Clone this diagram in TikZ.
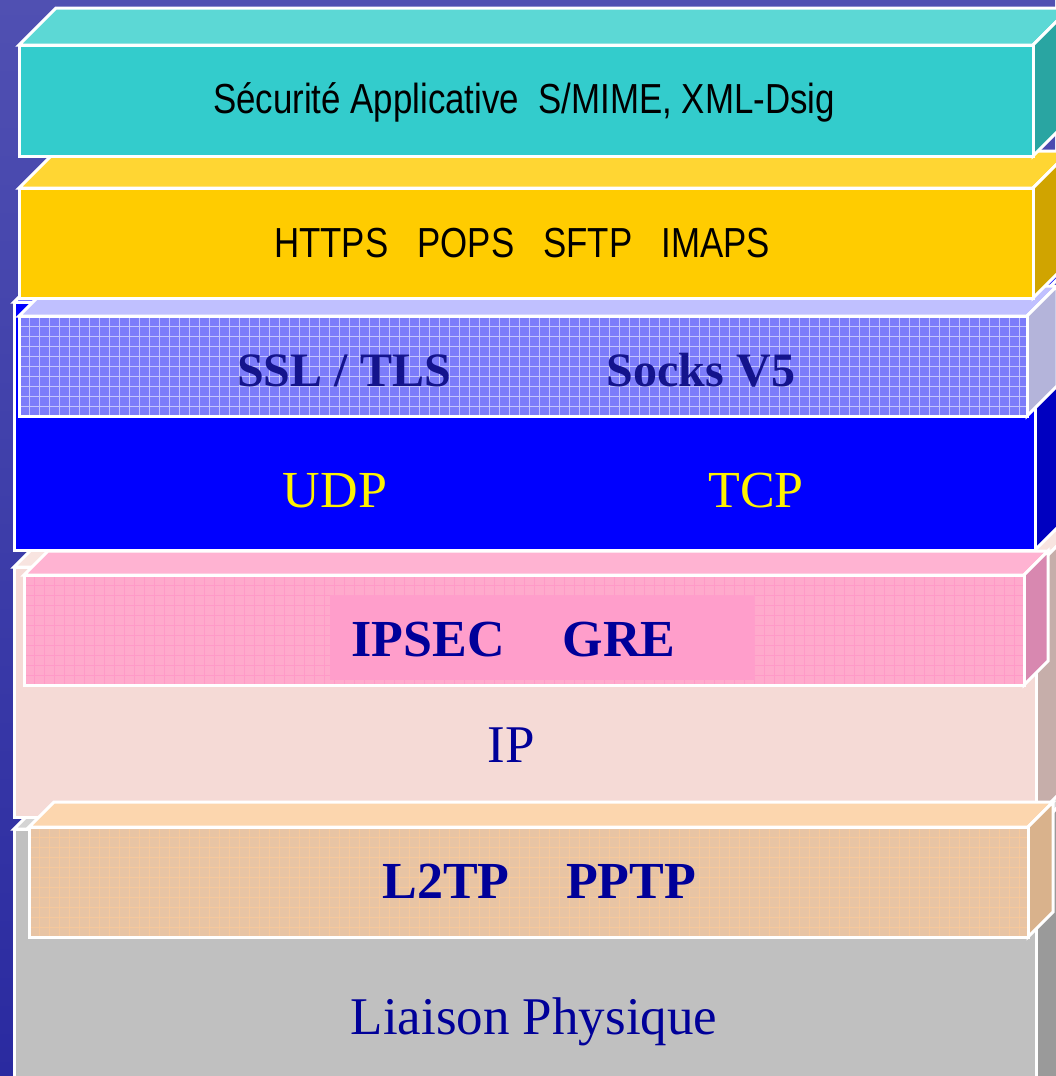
\documentclass[tikz,border=0pt]{standalone}
\usepackage{fontspec}
\setmainfont{Liberation Serif}
\newfontfamily\narrowsans[FakeStretch=0.83]{Liberation Sans}

\definecolor{bgtop}{HTML}{5050B2}
\definecolor{bgbot}{HTML}{2A2AA0}
\definecolor{tealfront}{HTML}{33CCCC}
\definecolor{tealtop}{HTML}{5CD8D5}
\definecolor{tealside}{HTML}{29A5A2}
\definecolor{yellowfront}{HTML}{FFCC00}
\definecolor{yellowtop}{HTML}{FFD633}
\definecolor{yellowside}{HTML}{D0A400}
\definecolor{sslfront}{HTML}{7C7CFA}
\definecolor{ssltop}{HTML}{C0C0FF}
\definecolor{sslside}{HTML}{B4B4DA}
\definecolor{udpfront}{HTML}{0000FF}
\definecolor{udptop}{HTML}{3333FF}
\definecolor{udpside}{HTML}{0000C0}
\definecolor{ipsecfront}{HTML}{FFAACC}
\definecolor{ipsecgrid}{HTML}{FF9AC8}
\definecolor{ipsectop}{HTML}{FFB3D2}
\definecolor{ipsecside}{HTML}{D888B0}
\definecolor{ipsecin}{HTML}{FF9ECB}
\definecolor{ipfront}{HTML}{F5DAD6}
\definecolor{iptop}{HTML}{F8E4E0}
\definecolor{ipside}{HTML}{C6AEAA}
\definecolor{ltfront}{HTML}{E8C4A4}
\definecolor{ltgrid}{HTML}{F6C89C}
\definecolor{lttop}{HTML}{FCD6AE}
\definecolor{ltside}{HTML}{D9B28C}
\definecolor{greyfront}{HTML}{C0C0C0}
\definecolor{greytop}{HTML}{D4D4D4}
\definecolor{greyside}{HTML}{9A9A9A}
\definecolor{navytxt}{HTML}{000099}
\definecolor{ssltxt}{HTML}{14148C}

\tikzset{
  boxline/.style={draw=white, line width=1.5pt, line join=miter},
  sanslbl/.style={anchor=base, inner sep=0pt, text=black, font=\narrowsans\fontsize{21}{25}\selectfont},
  boldlbl/.style={anchor=base, inner sep=0pt, text=navytxt, font=\bfseries\fontsize{26}{30}\selectfont},
  ssllbl/.style={anchor=base, inner sep=0pt, text=ssltxt, font=\bfseries\fontsize{24}{28}\selectfont},
  udplbl/.style={anchor=base, inner sep=0pt, text=yellow, font=\fontsize{26}{30}\selectfont},
  plainlbl/.style={anchor=base, inner sep=0pt, text=navytxt, font=\fontsize{26.5}{30}\selectfont}
}

% x1 y1 x2 y2 depth front top side
\newcommand{\layerbox}[8]{%
  \filldraw[boxline, fill=#7] (#1,#2) -- (#1+#5,#2-#5) -- (#3+#5,#2-#5) -- (#3,#2) -- cycle;
  \filldraw[boxline, fill=#8] (#3,#2) -- (#3+#5,#2-#5) -- (#3+#5,#4-#5) -- (#3,#4) -- cycle;
  \filldraw[boxline, fill=#6] (#1,#2) rectangle (#3,#4);
}
% x1 y1 x2 y2 colour
\newcommand{\gridlines}[5]{%
  \begin{scope}
    \clip (#1,#2) rectangle (#3,#4);
    \foreach \k in {0,...,102} {
      \draw[#5, line width=0.45pt] (#1+10*\k,#2) -- (#1+10*\k,#4);
      \draw[#5, line width=0.45pt] (#1,#2+10*\k) -- (#3,#2+10*\k);
    }
  \end{scope}
  \draw[boxline] (#1,#2) rectangle (#3,#4);
}

\begin{document}
\begin{tikzpicture}[x=0.5pt, y=-0.5pt]
  \useasboundingbox (0,0) rectangle (1055,1076);
  \shade[top color=bgtop, bottom color=bgbot] (0,0) rectangle (1055,1076);

  % liaison physique
  \layerbox{14}{829}{1036}{1110}{37}{greyfront}{greytop}{greyside}
  % ip
  \layerbox{14}{567}{1036}{817}{37}{ipfront}{iptop}{ipside}
  % l2tp / pptp
  \layerbox{29}{827}{1028}{937}{25}{ltfront}{lttop}{ltside}
  \gridlines{29}{827}{1028}{937}{ltgrid}
  % udp / tcp
  \layerbox{14}{302}{1035}{550}{37}{udpfront}{udptop}{udpside}
  % ipsec / gre
  \layerbox{24}{575}{1024}{685}{24}{ipsecfront}{ipsectop}{ipsecside}
  \gridlines{24}{575}{1024}{685}{ipsecgrid}
  \fill[ipsecin] (330,595) rectangle (755,680);
  % ssl / tls
  \layerbox{19}{316}{1027}{416}{30}{sslfront}{ssltop}{sslside}
  \gridlines{19}{316}{1027}{416}{white!55!sslfront}
  % https ...
  \layerbox{19}{188}{1033}{298}{37}{yellowfront}{yellowtop}{yellowside}
  % securite applicative
  \layerbox{19}{45}{1033}{156}{37}{tealfront}{tealtop}{tealside}

  \node[sanslbl] (secu) at (524,113) {Sécurité Applicative\ \ S/MIME, XML-Dsig};
  \node[sanslbl] (https) at (522,257) {HTTPS\ \ \ POPS\ \ \ SFTP\ \ \ IMAPS};
  \node[ssllbl] (ssl) at (344,386) {SSL / TLS};
  \node[ssllbl] (socks) at (701,386) {Socks V5};
  \node[udplbl] (udp) at (335,507) {UDP};
  \node[udplbl] (tcp) at (756,507) {TCP};
  \node[boldlbl] (ipsec) at (428,656) {IPSEC};
  \node[boldlbl] (gre) at (619,656) {GRE};
  \node[plainlbl] (ip) at (511,762) {IP};
  \node[boldlbl] (ltp) at (446,898) {L2TP};
  \node[boldlbl] (pptp) at (631,898) {PPTP};
  \node[plainlbl] (phys) at (534,1034) {Liaison Physique};
\end{tikzpicture}
\end{document}
